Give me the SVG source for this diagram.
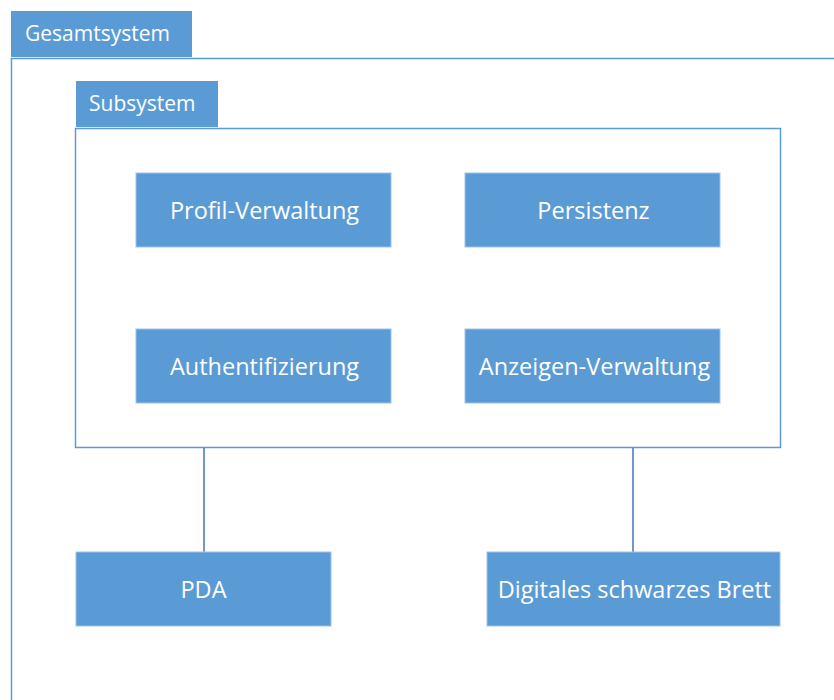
<svg xmlns="http://www.w3.org/2000/svg" width="834" height="700" viewBox="0 0 834 700">
<style>
.box{fill:#5b9bd5;stroke:#9dc3e6;stroke-width:1}
.frame{fill:none;stroke:#5b9bd5;stroke-width:1.5}
.lbl{font-family:"Open Sans","Liberation Sans",sans-serif;fill:#ffffff;font-size:23.5px;text-anchor:middle;dominant-baseline:central}
.tab{font-family:"Open Sans","Liberation Sans",sans-serif;fill:#ffffff;font-size:21px}
.conn{stroke:#4472c4;stroke-width:1.5;fill:none}
</style>
<rect width="834" height="700" fill="#ffffff"/>
<g id="gesamtsystem">
<rect x="11" y="11" width="181" height="46" fill="#5b9bd5"/>
<text class="tab" x="25" y="41">Gesamtsystem</text>
<path class="frame" d="M11.5,700 V58.5 H834"/>
</g>
<g id="subsystem">
<rect x="76" y="81" width="142" height="46" fill="#5b9bd5"/>
<text class="tab" x="89" y="111">Subsystem</text>
<rect class="frame" x="75.5" y="128.5" width="705" height="319"/>
</g>
<g id="connectors">
<line class="conn" x1="204" y1="448" x2="204" y2="552"/>
<line class="conn" x1="633" y1="448" x2="633" y2="552"/>
</g>
<g id="profil-verwaltung">
<rect class="box" x="136" y="173" width="255" height="74"/>
<text class="lbl" x="264.5" y="210">Profil-Verwaltung</text>
</g>
<g id="persistenz">
<rect class="box" x="465" y="173" width="255" height="74"/>
<text class="lbl" x="593.5" y="210">Persistenz</text>
</g>
<g id="authentifizierung">
<rect class="box" x="136" y="329" width="255" height="74"/>
<text class="lbl" x="264.5" y="366">Authentifizierung</text>
</g>
<g id="anzeigen-verwaltung">
<rect class="box" x="465" y="329" width="255" height="74"/>
<text class="lbl" x="594.5" y="366">Anzeigen-Verwaltung</text>
</g>
<g id="pda">
<rect class="box" x="76" y="552" width="255" height="74"/>
<text class="lbl" x="203.5" y="589">PDA</text>
</g>
<g id="digitales-schwarzes-brett">
<rect class="box" x="487" y="552" width="293" height="74"/>
<text class="lbl" x="634.5" y="589">Digitales schwarzes Brett</text>
</g>
</svg>
